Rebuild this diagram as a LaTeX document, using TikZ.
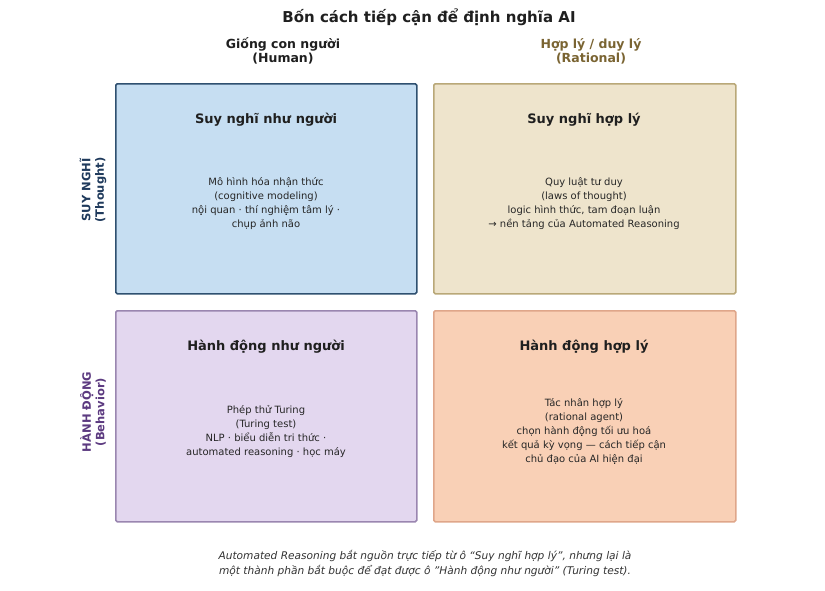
\documentclass[tikz,border=0pt]{standalone}
\usepackage{fontspec}
\setmainfont{DejaVu Sans}
\begin{document}
\begin{tikzpicture}[x=1pt,y=-1pt,
  quad/.style={draw, line width=1.6pt, rounded corners=1.5pt, inner sep=0pt, anchor=north west},
  qtitle/.style={font=\fontsize{13}{15}\selectfont\bfseries, text=black!88},
  qbody/.style={font=\fontsize{10}{14}\selectfont, align=center, text=black!85},
  colhead/.style={font=\fontsize{12.5}{14}\selectfont\bfseries, align=center},
  rowhead/.style={font=\fontsize{11.5}{13.5}\selectfont\bfseries, align=center, rotate=90}
]
\definecolor{bluefill}{HTML}{C6DEF2}
\definecolor{blueedge}{HTML}{2F5070}
\definecolor{tanfill}{HTML}{EEE4CC}
\definecolor{tanedge}{HTML}{B9A878}
\definecolor{purpfill}{HTML}{E3D7EF}
\definecolor{purpedge}{HTML}{9A86B0}
\definecolor{orfill}{HTML}{F9D0B6}
\definecolor{oredge}{HTML}{DFA68A}
\definecolor{brownhead}{HTML}{7A6432}
\definecolor{bluehead}{HTML}{1F3A5C}
\definecolor{purphead}{HTML}{5C3A80}
\useasboundingbox (0,0) rectangle (825,590);
\fill[white] (0,0) rectangle (825,590);

\node[font=\fontsize{15}{17}\selectfont\bfseries, text=black!88] (title) at (429,17) {Bốn cách tiếp cận để định nghĩa AI};

\node[colhead, text=black!88] (human) at (283,51) {Giống con người\\(Human)};
\node[colhead, text=brownhead] (rational) at (591,51) {Hợp lý / duy lý\\(Rational)};

\node[rowhead, text=bluehead] (thought) at (93,190) {SUY NGHĨ\\(Thought)};
\node[rowhead, text=purphead] (behavior) at (93,412) {HÀNH ĐỘNG\\(Behavior)};

\node[quad, fill=bluefill, draw=blueedge, minimum width=301pt, minimum height=210pt] (q1) at (115,83) {};
\node[quad, fill=tanfill, draw=tanedge, minimum width=302pt, minimum height=210pt] (q2) at (433,83) {};
\node[quad, fill=purpfill, draw=purpedge, minimum width=301pt, minimum height=211pt] (q3) at (115,310) {};
\node[quad, fill=orfill, draw=oredge, minimum width=302pt, minimum height=211pt] (q4) at (433,310) {};

\node[qtitle] (t1) at (266,120) {Suy nghĩ như người};
\node[qtitle] (t2) at (584,120) {Suy nghĩ hợp lý};
\node[qtitle] (t3) at (266,347) {Hành động như người};
\node[qtitle] (t4) at (584,347) {Hành động hợp lý};

\node[qbody] (b1) at (266,204) {Mô hình hóa nhận thức\\(cognitive modeling)\\nội quan · thí nghiệm tâm lý ·\\chụp ảnh não};
\node[qbody] (b2) at (584,204) {Quy luật tư duy\\(laws of thought)\\logic hình thức, tam đoạn luận\\→ nền tảng của Automated Reasoning};
\node[qbody] (b3) at (266,431) {Phép thử Turing\\(Turing test)\\NLP · biểu diễn tri thức ·\\automated reasoning · học máy};
\node[qbody] (b4) at (584,431) {Tác nhân hợp lý\\(rational agent)\\chọn hành động tối ưu hoá\\kết quả kỳ vọng — cách tiếp cận\\chủ đạo của AI hiện đại};

\node[font=\fontsize{10.6}{15}\selectfont\itshape, align=center, text=black!80] (foot) at (425,563) {Automated Reasoning bắt nguồn trực tiếp từ ô “Suy nghĩ hợp lý”, nhưng lại là\\một thành phần bắt buộc để đạt được ô "Hành động như người" (Turing test).};
\end{tikzpicture}
\end{document}
